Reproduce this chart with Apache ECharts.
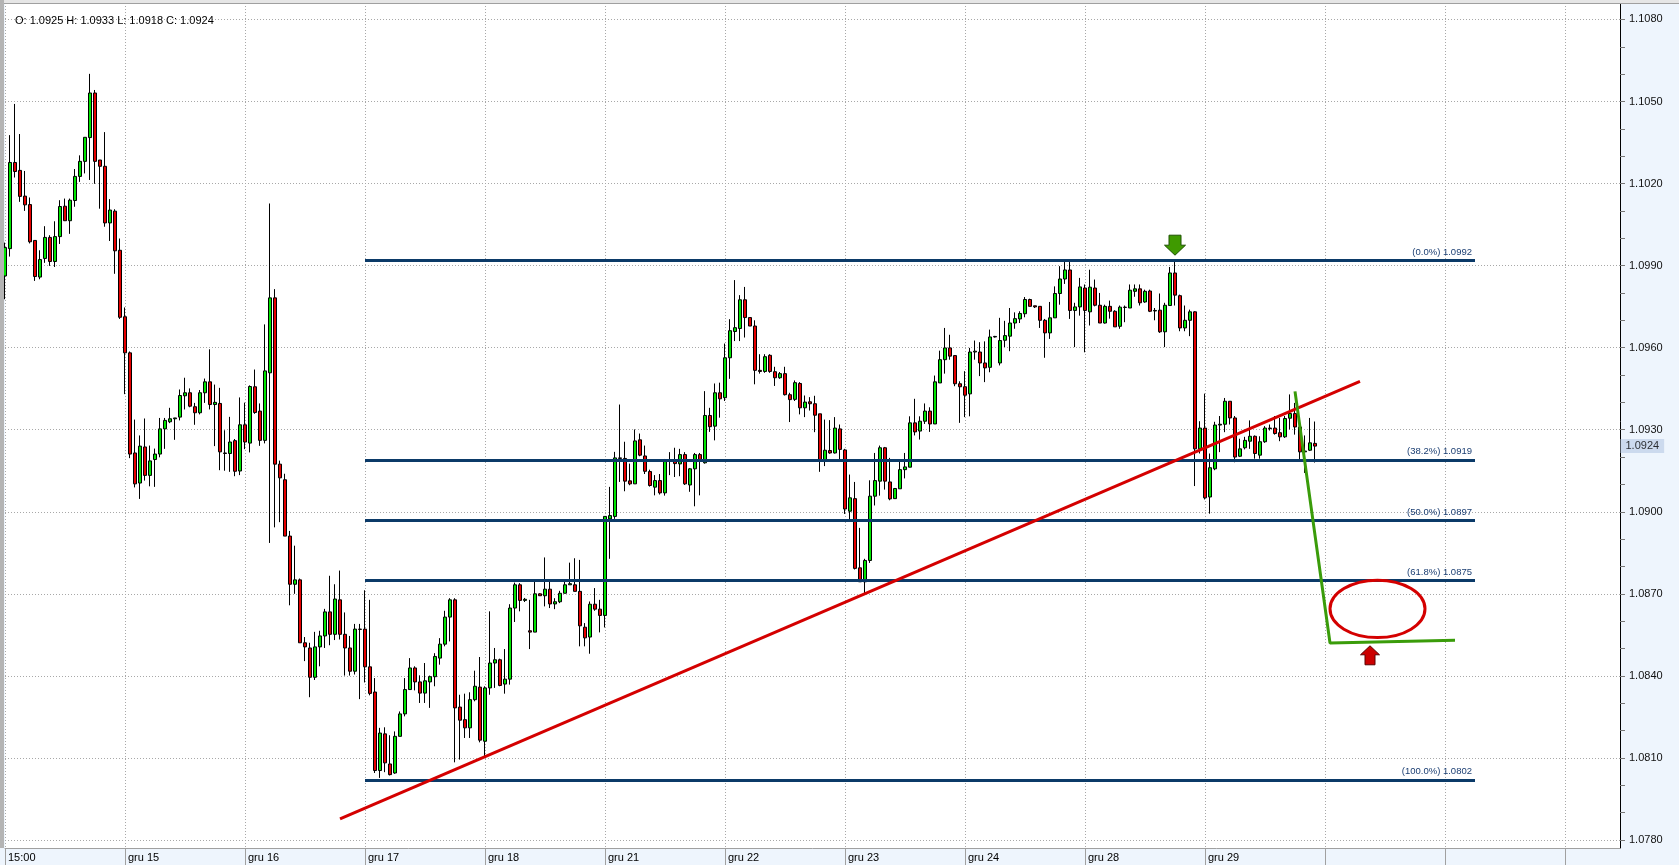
<!DOCTYPE html>
<html lang="pl">
<head>
    <meta charset="UTF-8">
    <title>EUR/USD H1</title>
    <style>
        html, body { margin: 0; padding: 0; background: #fff; }
        #main { width: 1679px; height: 865px; }
    </style>
</head>
<body>
<div id="main"></div>
<script src="https://cdn.jsdelivr.net/npm/echarts@6.0.0/dist/echarts.min.js"></script>
<script>
    // hourly slots shown on the time axis (candles + empty space on the right)
    var slotCount = 324
    var barsPerDay = 24
    var dayLabels = ['15:00', 'gru 15', 'gru 16', 'gru 17', 'gru 18', 'gru 21', 'gru 22', 'gru 23', 'gru 24', 'gru 28', 'gru 29']

    // price scale
    var priceMin = 1.0780
    var priceMax = 1.1086
    var priceStep = 0.0030

    // [open, close, low, high]
    var candles = [
        [1.09862, 1.09966, 1.09777, 1.09984], [1.09962, 1.10277, 1.09933, 1.10377], [1.10277, 1.10244, 1.10222, 1.10491],
        [1.10248, 1.10153, 1.10133, 1.10381], [1.10154, 1.10122, 1.10100, 1.10246], [1.10123, 1.09987, 1.09981, 1.10149],
        [1.09992, 1.09860, 1.09844, 1.09992], [1.09858, 1.09922, 1.09850, 1.09956], [1.09926, 1.10003, 1.09910, 1.10044],
        [1.10003, 1.09915, 1.09899, 1.10011], [1.09915, 1.10006, 1.09895, 1.10062], [1.10006, 1.10116, 1.09979, 1.10139],
        [1.10117, 1.10064, 1.10064, 1.10145], [1.10064, 1.10139, 1.10016, 1.10145], [1.10138, 1.10226, 1.10115, 1.10253],
        [1.10226, 1.10281, 1.10206, 1.10303], [1.10281, 1.10369, 1.10237, 1.10369], [1.10368, 1.10531, 1.10213, 1.10601],
        [1.10531, 1.10281, 1.10199, 1.10542], [1.10286, 1.10263, 1.10108, 1.10286], [1.10263, 1.10056, 1.10042, 1.10388],
        [1.10056, 1.10103, 1.09990, 1.10143], [1.10099, 1.09954, 1.09870, 1.10106], [1.09956, 1.09711, 1.09705, 1.09999],
        [1.09713, 1.09581, 1.09430, 1.09747], [1.09581, 1.09211, 1.09196, 1.09586], [1.09215, 1.09102, 1.09089, 1.09337],
        [1.09105, 1.09240, 1.09047, 1.09279], [1.09237, 1.09133, 1.09114, 1.09341], [1.09133, 1.09186, 1.09093, 1.09242],
        [1.09191, 1.09211, 1.09091, 1.09231], [1.09211, 1.09303, 1.09199, 1.09343], [1.09303, 1.09334, 1.09230, 1.09343],
        [1.09329, 1.09340, 1.09324, 1.09380], [1.09340, 1.09343, 1.09263, 1.09343], [1.09346, 1.09425, 1.09334, 1.09447],
        [1.09424, 1.09435, 1.09374, 1.09490], [1.09435, 1.09386, 1.09382, 1.09451], [1.09384, 1.09362, 1.09318, 1.09398],
        [1.09362, 1.09435, 1.09356, 1.09445], [1.09435, 1.09475, 1.09398, 1.09487], [1.09475, 1.09392, 1.09374, 1.09594],
        [1.09392, 1.09400, 1.09240, 1.09465], [1.09396, 1.09219, 1.09152, 1.09453], [1.09215, 1.09213, 1.09150, 1.09298],
        [1.09213, 1.09255, 1.09146, 1.09347], [1.09260, 1.09148, 1.09130, 1.09266], [1.09149, 1.09318, 1.09134, 1.09418],
        [1.09318, 1.09255, 1.09229, 1.09399], [1.09251, 1.09458, 1.09217, 1.09462], [1.09457, 1.09363, 1.09358, 1.09520],
        [1.09368, 1.09261, 1.09241, 1.09396], [1.09261, 1.09515, 1.09250, 1.09685], [1.09508, 1.09782, 1.08886, 1.10127],
        [1.09782, 1.09174, 1.08943, 1.09814], [1.09174, 1.09124, 1.08962, 1.09187], [1.09117, 1.08911, 1.08911, 1.09139],
        [1.08911, 1.08735, 1.08658, 1.08930], [1.08735, 1.08751, 1.08700, 1.08876], [1.08751, 1.08521, 1.08521, 1.08756],
        [1.08521, 1.08506, 1.08454, 1.08542], [1.08502, 1.08395, 1.08322, 1.08521], [1.08395, 1.08506, 1.08385, 1.08561],
        [1.08506, 1.08546, 1.08435, 1.08565], [1.08546, 1.08634, 1.08502, 1.08645], [1.08634, 1.08552, 1.08512, 1.08766],
        [1.08552, 1.08681, 1.08531, 1.08735], [1.08678, 1.08552, 1.08533, 1.08785], [1.08552, 1.08502, 1.08401, 1.08632],
        [1.08502, 1.08417, 1.08401, 1.08546], [1.08417, 1.08571, 1.08405, 1.08590], [1.08571, 1.08570, 1.08315, 1.08590],
        [1.08571, 1.08433, 1.08376, 1.08713], [1.08433, 1.08336, 1.08329, 1.08678], [1.08341, 1.08054, 1.08045, 1.08392],
        [1.08054, 1.08191, 1.08027, 1.08210], [1.08188, 1.08082, 1.08048, 1.08212], [1.08078, 1.08039, 1.08036, 1.08183],
        [1.08045, 1.08179, 1.08042, 1.08197], [1.08179, 1.08261, 1.08179, 1.08270], [1.08261, 1.08350, 1.08252, 1.08392],
        [1.08350, 1.08429, 1.08350, 1.08465], [1.08429, 1.08378, 1.08347, 1.08435], [1.08378, 1.08337, 1.08301, 1.08402],
        [1.08337, 1.08382, 1.08301, 1.08447], [1.08378, 1.08397, 1.08283, 1.08401], [1.08397, 1.08471, 1.08362, 1.08483],
        [1.08465, 1.08516, 1.08441, 1.08538], [1.08516, 1.08615, 1.08508, 1.08638], [1.08615, 1.08678, 1.08526, 1.08684],
        [1.08678, 1.08283, 1.08084, 1.08684], [1.08286, 1.08238, 1.08094, 1.08331], [1.08240, 1.08210, 1.08173, 1.08335],
        [1.08210, 1.08313, 1.08173, 1.08340], [1.08313, 1.08362, 1.08307, 1.08419], [1.08359, 1.08165, 1.08157, 1.08469],
        [1.08161, 1.08356, 1.08100, 1.08362], [1.08356, 1.08447, 1.08331, 1.08636], [1.08447, 1.08459, 1.08356, 1.08502],
        [1.08459, 1.08365, 1.08362, 1.08463], [1.08370, 1.08388, 1.08335, 1.08498], [1.08388, 1.08648, 1.08368, 1.08662],
        [1.08648, 1.08733, 1.08597, 1.08741], [1.08733, 1.08676, 1.08636, 1.08739], [1.08676, 1.08680, 1.08670, 1.08685],
        [1.08565, 1.08560, 1.08498, 1.08678], [1.08560, 1.08700, 1.08560, 1.08745], [1.08700, 1.08693, 1.08693, 1.08702],
        [1.08693, 1.08717, 1.08654, 1.08833], [1.08717, 1.08663, 1.08648, 1.08745], [1.08663, 1.08671, 1.08644, 1.08684],
        [1.08671, 1.08702, 1.08666, 1.08711], [1.08702, 1.08733, 1.08702, 1.08745], [1.08733, 1.08737, 1.08733, 1.08814],
        [1.08733, 1.08709, 1.08709, 1.08830], [1.08709, 1.08583, 1.08508, 1.08824], [1.08578, 1.08539, 1.08508, 1.08593],
        [1.08542, 1.08662, 1.08481, 1.08672], [1.08662, 1.08644, 1.08638, 1.08721], [1.08644, 1.08621, 1.08559, 1.08678],
        [1.08621, 1.08983, 1.08577, 1.08983], [1.08974, 1.08986, 1.08828, 1.09091], [1.08983, 1.09197, 1.08974, 1.09219],
        [1.09197, 1.09195, 1.09109, 1.09392], [1.09195, 1.09112, 1.09075, 1.09256], [1.09113, 1.09102, 1.09097, 1.09176],
        [1.09102, 1.09259, 1.09102, 1.09301], [1.09263, 1.09207, 1.09203, 1.09286], [1.09204, 1.09148, 1.09138, 1.09242],
        [1.09147, 1.09096, 1.09092, 1.09154], [1.09090, 1.09114, 1.09060, 1.09134], [1.09114, 1.09069, 1.09063, 1.09138],
        [1.09069, 1.09189, 1.09059, 1.09193], [1.09185, 1.09189, 1.09134, 1.09218], [1.09189, 1.09176, 1.09127, 1.09234],
        [1.09175, 1.09209, 1.09130, 1.09230], [1.09209, 1.09102, 1.09098, 1.09218], [1.09098, 1.09157, 1.09073, 1.09160],
        [1.09157, 1.09209, 1.09020, 1.09215], [1.09209, 1.09185, 1.09060, 1.09215], [1.09179, 1.09352, 1.09176, 1.09441],
        [1.09352, 1.09311, 1.09292, 1.09380], [1.09313, 1.09435, 1.09261, 1.09469], [1.09435, 1.09413, 1.09344, 1.09472],
        [1.09417, 1.09563, 1.09405, 1.09615], [1.09563, 1.09662, 1.09486, 1.09704], [1.09659, 1.09673, 1.09624, 1.09847],
        [1.09670, 1.09775, 1.09624, 1.09792], [1.09775, 1.09710, 1.09637, 1.09822], [1.09710, 1.09679, 1.09679, 1.09710],
        [1.09679, 1.09517, 1.09466, 1.09700], [1.09517, 1.09513, 1.09505, 1.09576], [1.09513, 1.09567, 1.09508, 1.09576],
        [1.09572, 1.09513, 1.09508, 1.09576], [1.09512, 1.09490, 1.09460, 1.09530], [1.09490, 1.09505, 1.09486, 1.09511],
        [1.09505, 1.09428, 1.09425, 1.09530], [1.09428, 1.09410, 1.09328, 1.09435], [1.09411, 1.09472, 1.09405, 1.09480],
        [1.09469, 1.09380, 1.09356, 1.09474], [1.09380, 1.09401, 1.09346, 1.09425], [1.09402, 1.09395, 1.09370, 1.09419],
        [1.09395, 1.09353, 1.09291, 1.09424], [1.09358, 1.09191, 1.09146, 1.09358], [1.09191, 1.09225, 1.09167, 1.09337],
        [1.09224, 1.09215, 1.09212, 1.09335], [1.09215, 1.09306, 1.09213, 1.09346], [1.09303, 1.09228, 1.09189, 1.09319],
        [1.09226, 1.09010, 1.08992, 1.09230], [1.09002, 1.09051, 1.08966, 1.09136], [1.09048, 1.08793, 1.08789, 1.09109],
        [1.08795, 1.08744, 1.08744, 1.08941], [1.08744, 1.08822, 1.08701, 1.08828], [1.08822, 1.09057, 1.08813, 1.09115],
        [1.09057, 1.09114, 1.09023, 1.09215], [1.09112, 1.09234, 1.09059, 1.09242], [1.09234, 1.09112, 1.09081, 1.09237],
        [1.09109, 1.09047, 1.09042, 1.09197], [1.09048, 1.09085, 1.09048, 1.09087], [1.09084, 1.09154, 1.09084, 1.09187],
        [1.09154, 1.09164, 1.09122, 1.09215], [1.09163, 1.09325, 1.09163, 1.09349], [1.09325, 1.09292, 1.09279, 1.09413],
        [1.09295, 1.09331, 1.09264, 1.09349], [1.09331, 1.09368, 1.09321, 1.09396], [1.09368, 1.09321, 1.09292, 1.09382],
        [1.09321, 1.09475, 1.09321, 1.09498], [1.09471, 1.09556, 1.09471, 1.09589], [1.09556, 1.09599, 1.09505, 1.09672],
        [1.09599, 1.09569, 1.09556, 1.09647], [1.09571, 1.09468, 1.09459, 1.09572], [1.09468, 1.09457, 1.09325, 1.09477],
        [1.09457, 1.09426, 1.09346, 1.09514], [1.09431, 1.09584, 1.09349, 1.09599], [1.09584, 1.09587, 1.09556, 1.09626],
        [1.09584, 1.09544, 1.09496, 1.09620], [1.09544, 1.09526, 1.09474, 1.09623], [1.09528, 1.09639, 1.09510, 1.09666],
        [1.09639, 1.09641, 1.09637, 1.09643], [1.09544, 1.09626, 1.09535, 1.09709], [1.09627, 1.09644, 1.09602, 1.09698],
        [1.09642, 1.09690, 1.09587, 1.09745], [1.09690, 1.09706, 1.09669, 1.09729], [1.09705, 1.09725, 1.09690, 1.09733],
        [1.09724, 1.09776, 1.09711, 1.09785], [1.09776, 1.09751, 1.09751, 1.09779], [1.09753, 1.09749, 1.09745, 1.09753],
        [1.09751, 1.09700, 1.09672, 1.09751], [1.09700, 1.09654, 1.09563, 1.09705], [1.09654, 1.09709, 1.09632, 1.09767],
        [1.09709, 1.09798, 1.09709, 1.09824], [1.09798, 1.09851, 1.09757, 1.09898], [1.09851, 1.09884, 1.09833, 1.09913],
        [1.09884, 1.09736, 1.09705, 1.09913], [1.09736, 1.09749, 1.09602, 1.09764], [1.09749, 1.09822, 1.09717, 1.09855],
        [1.09818, 1.09736, 1.09583, 1.09831], [1.09731, 1.09821, 1.09681, 1.09885], [1.09818, 1.09755, 1.09751, 1.09849],
        [1.09755, 1.09690, 1.09690, 1.09800], [1.09690, 1.09751, 1.09688, 1.09757], [1.09751, 1.09733, 1.09706, 1.09772],
        [1.09733, 1.09676, 1.09676, 1.09737], [1.09678, 1.09748, 1.09669, 1.09754], [1.09748, 1.09747, 1.09693, 1.09754],
        [1.09745, 1.09810, 1.09745, 1.09831], [1.09806, 1.09815, 1.09786, 1.09831], [1.09815, 1.09764, 1.09754, 1.09831],
        [1.09767, 1.09806, 1.09764, 1.09812], [1.09807, 1.09733, 1.09730, 1.09812], [1.09734, 1.09736, 1.09700, 1.09745],
        [1.09737, 1.09658, 1.09654, 1.09798], [1.09658, 1.09755, 1.09602, 1.09764], [1.09754, 1.09873, 1.09754, 1.09895],
        [1.09873, 1.09792, 1.09754, 1.09919], [1.09790, 1.09672, 1.09660, 1.09794], [1.09672, 1.09700, 1.09660, 1.09754],
        [1.09700, 1.09731, 1.09642, 1.09739], [1.09731, 1.09230, 1.09094, 1.09733], [1.09230, 1.09306, 1.09213, 1.09331],
        [1.09306, 1.09051, 1.09045, 1.09432], [1.09054, 1.09161, 1.08993, 1.09213], [1.09157, 1.09317, 1.09152, 1.09329],
        [1.09317, 1.09320, 1.09218, 1.09350], [1.09320, 1.09404, 1.09291, 1.09416], [1.09404, 1.09343, 1.09319, 1.09404],
        [1.09343, 1.09200, 1.09181, 1.09350], [1.09203, 1.09230, 1.09200, 1.09267], [1.09234, 1.09261, 1.09228, 1.09274],
        [1.09258, 1.09276, 1.09230, 1.09334], [1.09276, 1.09213, 1.09194, 1.09279], [1.09207, 1.09256, 1.09194, 1.09276],
        [1.09256, 1.09306, 1.09252, 1.09313], [1.09306, 1.09304, 1.09297, 1.09319], [1.09306, 1.09286, 1.09282, 1.09350],
        [1.09289, 1.09274, 1.09258, 1.09343], [1.09274, 1.09341, 1.09270, 1.09350], [1.09342, 1.09359, 1.09301, 1.09429],
        [1.09359, 1.09310, 1.09282, 1.09398], [1.09310, 1.09219, 1.09191, 1.09325], [1.09219, 1.09222, 1.09142, 1.09279],
        [1.09225, 1.09252, 1.09222, 1.09343], [1.0925, 1.0924, 1.0918, 1.0933]
    ]

    // Fibonacci retracement
    var fibLevels = ['0.0%', '38.2%', '50.0%', '61.8%', '100.0%']
    var fibPrices = [1.0992, 1.0919, 1.0897, 1.0875, 1.0802]
    var fibRange = [72, 294]

    // drawn annotations: [slot, price]
    var trendLine = [[67, 1.07877], [271, 1.09477]]
    var projection = [[258, 1.0944], [265, 1.0852], [290, 1.0853]]
    var targetZone = [[265, 1.0875, 284, 1.0854]]
    var topMarker = [[234, 1.09938]]
    var buyMarker = [[273, 1.0851]]

    var categories = []
    for (var i = 0; i < slotCount; i++) {
        categories.push(String(i))
    }
    var last = candles[candles.length - 1]
    var lastPrice = last[1]

    var isDay = function (index) {
        return index % barsPerDay === 0
    }
    var dotted = {color: '#a8a8a8', type: [1, 2]}

    var fibLines = fibPrices.map(function (p, k) {
        return [
            {coord: [fibRange[0], p], label: {formatter: '(' + fibLevels[k] + ') ' + p.toFixed(4)}},
            {coord: [fibRange[1], p]}
        ]
    })

    var arrow = function (points, fill, stroke) {
        return function (params, api) {
            var c = api.coord([api.value(0), api.value(1)])
            return {
                type: 'polygon',
                shape: {points: points.map(function (pt) { return [c[0] + pt[0], c[1] + pt[1]] })},
                style: {fill: fill, stroke: stroke, lineWidth: 1}
            }
        }
    }

    var chart = echarts.init(document.getElementById('main'))
    var option = {
        animation: false,
        backgroundColor: '#eef5fd',
        textStyle: {fontFamily: '"Liberation Sans", Arial, sans-serif'},
        grid: [
            {left: 5, right: 59, top: 3, bottom: 25, show: true, backgroundColor: '#ffffff', borderWidth: 0},
            // thin strip under the lowest price line that carries the time axis
            {left: 5, right: 59, top: 840, bottom: 17, show: true, backgroundColor: '#ffffff', borderWidth: 0}
        ],
        xAxis: [
            {
                type: 'category', gridIndex: 0, data: categories, boundaryGap: false,
                axisLine: {show: false}, axisTick: {show: false}, axisLabel: {show: false},
                splitLine: {show: true, interval: isDay, lineStyle: dotted}
            },
            {
                type: 'category', gridIndex: 1, data: categories, boundaryGap: false,
                axisLine: {show: true, lineStyle: {color: '#a0a0a0'}},
                axisTick: {show: true, interval: isDay, length: 17, lineStyle: {color: '#a0a0a0'}},
                axisLabel: {
                    interval: isDay, align: 'left', padding: [0, 0, 0, 3], margin: 4,
                    fontSize: 11, color: '#000',
                    formatter: function (value, index) {
                        return dayLabels[index / barsPerDay] || ''
                    }
                },
                splitLine: {show: true, interval: isDay, lineStyle: dotted}
            }
        ],
        yAxis: [
            {
                type: 'value', gridIndex: 0, position: 'right',
                min: priceMin, max: priceMax, interval: priceStep,
                axisLine: {show: true, lineStyle: {color: '#000'}},
                axisTick: {show: true, length: 5, lineStyle: {color: '#777'}},
                minorTick: {show: true, splitNumber: 3, length: 5, lineStyle: {color: '#777'}},
                axisLabel: {
                    margin: 9, fontSize: 11, color: '#111', showMaxLabel: false,
                    formatter: function (v) { return v.toFixed(4) }
                },
                splitLine: {show: true, lineStyle: dotted}
            },
            {
                type: 'value', gridIndex: 1, position: 'right', min: 0, max: 1,
                axisLine: {show: true, lineStyle: {color: '#000'}},
                axisTick: {show: false}, axisLabel: {show: false}, splitLine: {show: false}
            }
        ],
        graphic: [
            {type: 'rect', shape: {x: 0, y: 0, width: 1679, height: 3}, style: {fill: '#e6e6e6'}, z: 10},
            {type: 'line', shape: {x1: 0, y1: 3.5, x2: 1679, y2: 3.5}, style: {stroke: '#a0a0a0', lineWidth: 1}, z: 10},
            {type: 'rect', shape: {x: 0, y: 0, width: 4, height: 848}, style: {fill: '#b4b4b4'}, z: 10},
            {
                type: 'text', left: 15, top: 15, z: 10,
                style: {
                    text: 'O: ' + last[0].toFixed(4) + ' H: ' + last[3].toFixed(4) +
                        ' L: ' + last[2].toFixed(4) + ' C: ' + last[1].toFixed(4),
                    font: '11px "Liberation Sans", Arial, sans-serif', fill: '#000'
                }
            }
        ],
        series: [
            {
                type: 'candlestick',
                data: candles,
                barWidth: 3,
                clip: false,
                silent: true,
                itemStyle: {
                    color: '#00e600', color0: '#e60000',
                    borderColor: '#000', borderColor0: '#000', borderColorDoji: '#000',
                    borderWidth: 1
                },
                markLine: {
                    silent: true,
                    symbol: ['none', 'none'],
                    lineStyle: {color: '#0b3a68', width: 3, type: 'solid'},
                    label: {position: 'insideEndTop', distance: 3, color: '#1b3e72', fontSize: 9.5},
                    data: fibLines
                }
            },
            {
                type: 'line', data: trendLine, symbol: 'none', z: 6, silent: true,
                lineStyle: {color: '#d40000', width: 3}
            },
            {
                type: 'line', data: projection, symbol: 'none', z: 6, silent: true,
                lineStyle: {color: '#3a9c0a', width: 3}
            },
            {
                type: 'custom', data: targetZone, z: 7, silent: true,
                dimensions: ['x0', 'y0', 'x1', 'y1'],
                encode: {x: [0, 2], y: [1, 3]},
                renderItem: function (params, api) {
                    var a = api.coord([api.value(0), api.value(1)])
                    var b = api.coord([api.value(2), api.value(3)])
                    return {
                        type: 'ellipse',
                        shape: {
                            cx: (a[0] + b[0]) / 2, cy: (a[1] + b[1]) / 2,
                            rx: Math.abs(b[0] - a[0]) / 2, ry: Math.abs(b[1] - a[1]) / 2
                        },
                        style: {fill: 'none', stroke: '#d40000', lineWidth: 3}
                    }
                }
            },
            {
                type: 'custom', data: topMarker, z: 7, silent: true,
                renderItem: arrow([[-6, -20], [6, -20], [6, -10], [10.5, -10], [0, 0], [-10.5, -10], [-6, -10]], '#3f9a00', '#1d5200')
            },
            {
                type: 'custom', data: buyMarker, z: 7, silent: true,
                renderItem: arrow([[0, 0], [9.5, 9], [5, 9], [5, 19], [-5, 19], [-5, 9], [-9.5, 9]], '#cc0000', '#5a0000')
            },
            {
                // last price tag on the price axis
                type: 'scatter', data: [[slotCount - 1, lastPrice]], z: 8, silent: true, clip: false,
                symbol: 'rect', symbolSize: 1, itemStyle: {color: 'rgba(0,0,0,0)'},
                label: {
                    show: true, position: 'right', distance: 0,
                    formatter: lastPrice.toFixed(4),
                    color: '#000', fontSize: 11, backgroundColor: '#c3d3ea',
                    padding: [2, 5, 1, 5]
                }
            }
        ]
    }
    chart.setOption(option)
</script>
</body>
</html>
